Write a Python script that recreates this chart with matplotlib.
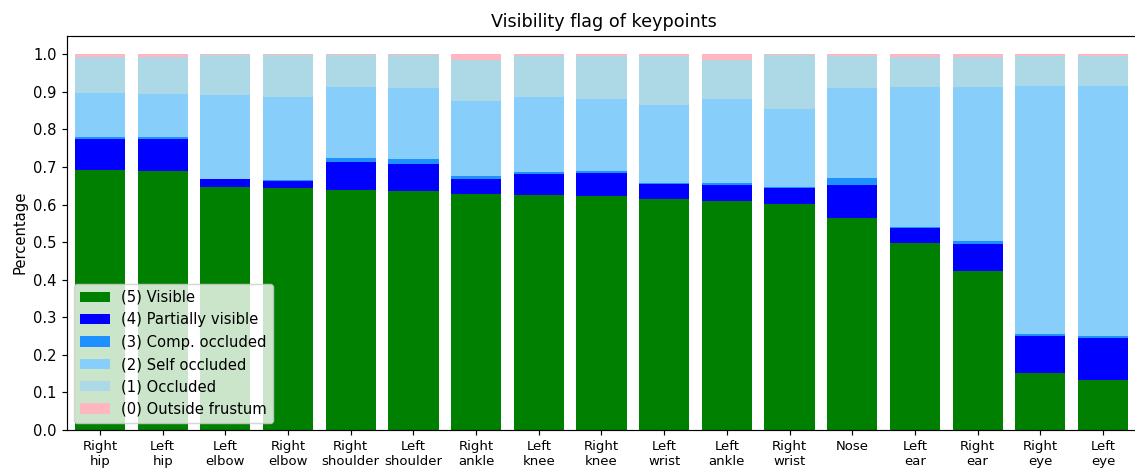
import matplotlib
matplotlib.use("Agg")
import matplotlib.pyplot as plt
import numpy as np

keypoints = ["Right\nhip", "Left\nhip", "Left\nelbow", "Right\nelbow", "Right\nshoulder",
             "Left\nshoulder", "Right\nankle", "Left\nknee", "Right\nknee", "Left\nwrist",
             "Left\nankle", "Right\nwrist", "Nose", "Left\near", "Right\near",
             "Right\neye", "Left\neye"]

visible = [0.692, 0.690, 0.647, 0.644, 0.638, 0.636, 0.629, 0.626, 0.624, 0.615,
           0.610, 0.602, 0.565, 0.499, 0.423, 0.152, 0.134]
partially_visible = [0.083, 0.084, 0.020, 0.019, 0.076, 0.073, 0.040, 0.055, 0.060, 0.041,
                     0.043, 0.042, 0.088, 0.038, 0.073, 0.097, 0.112]
comp_occluded = [0.005, 0.006, 0.002, 0.003, 0.009, 0.012, 0.007, 0.006, 0.006, 0.001,
                 0.005, 0.003, 0.017, 0.003, 0.007, 0.007, 0.005]
self_occluded = [0.117, 0.114, 0.223, 0.221, 0.190, 0.189, 0.200, 0.200, 0.191, 0.208,
                 0.223, 0.208, 0.240, 0.373, 0.410, 0.660, 0.665]
occluded = [0.097, 0.099, 0.106, 0.111, 0.085, 0.089, 0.109, 0.109, 0.115, 0.131,
            0.104, 0.143, 0.086, 0.080, 0.080, 0.080, 0.080]
outside_frustum = [0.006, 0.007, 0.002, 0.002, 0.002, 0.001, 0.015, 0.004, 0.004, 0.004,
                   0.015, 0.002, 0.004, 0.007, 0.007, 0.004, 0.004]

layers = [
    ("(5) Visible", visible, "green"),
    ("(4) Partially visible", partially_visible, "blue"),
    ("(3) Comp. occluded", comp_occluded, "dodgerblue"),
    ("(2) Self occluded", self_occluded, "lightskyblue"),
    ("(1) Occluded", occluded, "lightblue"),
    ("(0) Outside frustum", outside_frustum, "lightpink"),
]

DPI = 106
W, H = 1135, 472
fig = plt.figure(figsize=(W / DPI, H / DPI), dpi=DPI)
# the plot area runs past the right edge of the canvas
ax = fig.add_axes([67 / W, 42 / H, (1140 - 67) / W, (436.5 - 42) / H])

x = np.arange(len(keypoints))
bottom = np.zeros(len(keypoints))
for label, vals, color in layers:
    vals = np.array(vals)
    ax.bar(x, vals, width=0.8, bottom=bottom, color=color, label=label)
    bottom += vals

ax.set_xticks(x)
ax.set_xticklabels(keypoints, fontsize=9)
ax.set_yticks(np.arange(0, 1.01, 0.1))
ax.set_ylim(0, 1.05)
ax.set_xlim(-0.526, 16.59)
ax.set_ylabel("Percentage")
ax.set_title("Visibility flag of keypoints")
ax.legend(loc="lower left")

fig.savefig("out.png", dpi=DPI)
